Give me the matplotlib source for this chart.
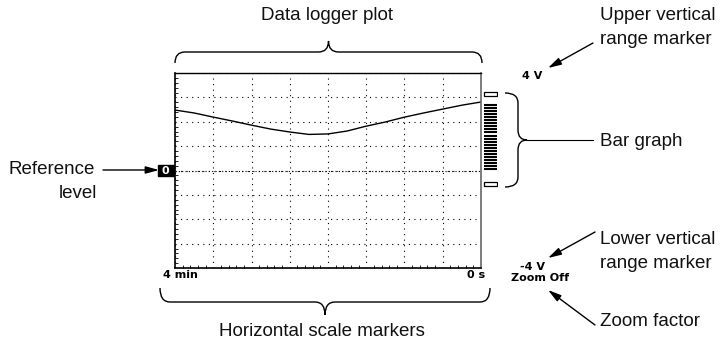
import numpy as np
import matplotlib
matplotlib.use("Agg")
import matplotlib.pyplot as plt
from matplotlib.path import Path
from matplotlib.patches import PathPatch, Rectangle


# logged trace: time before now (min) and voltage (V)
TIME_MIN = [-4.0, -3.75, -3.5, -3.25, -3.0, -2.75, -2.5, -2.25, -2.0,
            -1.75, -1.5, -1.25, -1.0, -0.75, -0.5, -0.25, 0.0]
VOLTS = [2.48, 2.36, 2.19, 2.03, 1.86, 1.70, 1.58, 1.48, 1.50,
         1.62, 1.82, 1.99, 2.19, 2.36, 2.52, 2.68, 2.81]

V_RANGE = (-4, 4)
T_RANGE = (-4, 0)
REF_LEVEL = 0.0
BAR_MAX_MARK = 3.15
BAR_MIN_MARK = -0.55

TICK_TEXT = {"upper": "4 V", "lower": "-4 V", "left": "4 min", "right": "0 s",
             "zoom": "Zoom Off"}

W, H = 724, 348
LABEL_FONT = ["Liberation Sans", "DejaVu Sans"]
LABEL_SIZE = 13.5


def px_axes(fig, x0, y0, x1, y1):
    # pixel box (top-left origin) -> figure axes
    return fig.add_axes([x0 / W, 1 - y1 / H, (x1 - x0) / W, (y1 - y0) / H])


def brace(ax, a0, a1, base, line, tip, r=10, vertical=False, lw=1.0):
    mid = (a0 + a1) / 2
    s = np.sign(a1 - a0)
    pts = [(a0, base), (a0, line), (a0 + r * s, line),
           (mid - r * s, line), (mid, line), (mid, tip),
           (mid, line), (mid + r * s, line),
           (a1 - r * s, line), (a1, line), (a1, base)]
    codes = [Path.MOVETO, Path.CURVE3, Path.CURVE3, Path.LINETO,
             Path.CURVE3, Path.CURVE3, Path.CURVE3, Path.CURVE3,
             Path.LINETO, Path.CURVE3, Path.CURVE3]
    if vertical:
        pts = [(p[1], p[0]) for p in pts]
    ax.add_patch(PathPatch(Path(pts, codes), fill=False, lw=lw, color="black"))


def arrow(ax, start, end):
    ax.annotate("", xy=end, xytext=start,
                arrowprops=dict(arrowstyle="-|>,head_length=0.8,head_width=0.22",
                                color="black", lw=1.0, shrinkA=0, shrinkB=0))


def main():
    fig = plt.figure(figsize=(W / 100, H / 100), dpi=100)

    # main data logger plot
    ax = px_axes(fig, 175, 73, 481, 268)
    ax.plot(TIME_MIN, VOLTS, color="black", lw=1.0)
    ax.set_xlim(*T_RANGE)
    ax.set_ylim(*V_RANGE)
    ax.set_xticks(np.linspace(T_RANGE[0], T_RANGE[1], 9))
    ax.set_yticks(np.linspace(V_RANGE[0], V_RANGE[1], 9))
    ax.set_xticks(np.linspace(T_RANGE[0], T_RANGE[1], 41), minor=True)
    ax.set_yticks(np.linspace(V_RANGE[0], V_RANGE[1], 41), minor=True)
    ax.tick_params(which="major", length=0, labelbottom=False, labelleft=False)
    ax.tick_params(which="minor", direction="in", length=2, width=0.6,
                   top=False, right=False)
    ax.grid(True, which="major", linestyle=(0, (1, 4)), color="black", lw=0.8)
    ax.axhline(REF_LEVEL, linestyle=(0, (1, 2)), color="black", lw=0.8)
    for side in ["left", "bottom", "right"]:
        ax.spines[side].set_linewidth(1.2)
    ax.spines["top"].set_linewidth(1.0)
    ax.spines["right"].set_color("#666666")

    # bar graph beside the plot
    bar = px_axes(fig, 483, 73, 498, 268)
    bar.set_xlim(0, 1)
    bar.set_ylim(*V_RANGE)
    bar.axis("off")
    stripes = np.arange(REF_LEVEL + 0.06, VOLTS[-1], 0.125)
    bar.hlines(stripes, 0.05, 0.95, color="black", lw=1.5)
    for level in [BAR_MAX_MARK, BAR_MIN_MARK]:
        bar.add_patch(Rectangle((0.05, level - 0.08), 0.9, 0.16, fill=False,
                                lw=0.9, color="black"))

    # annotation layer in pixel coordinates
    ann = fig.add_axes([0, 0, 1, 1])
    ann.set_xlim(0, W)
    ann.set_ylim(H, 0)
    ann.axis("off")
    ann.set_zorder(5)

    lab = dict(fontfamily=LABEL_FONT, fontsize=LABEL_SIZE, color="#111111")
    small = dict(fontfamily="DejaVu Sans", fontsize=8, fontweight="bold",
                 ha="center", va="center")

    ann.text(327, 16, "Data logger plot", ha="center", va="center", **lab)
    brace(ann, 175, 482, 63, 52, 41)

    ann.text(322, 331, "Horizontal scale markers", ha="center", va="center", **lab)
    brace(ann, 160, 490, 288, 302, 315)

    brace(ann, 93, 187, 505, 518, 527, vertical=True)
    ann.plot([527, 593], [140, 140], color="black", lw=0.8)
    ann.text(600, 141, "Bar graph", ha="left", va="center", **lab)

    ann.text(600, 15, "Upper vertical", ha="left", va="center", **lab)
    ann.text(600, 40, "range marker", ha="left", va="center", **lab)
    arrow(ann, (593, 43), (548, 68))

    ann.text(600, 240, "Lower vertical", ha="left", va="center", **lab)
    ann.text(600, 264, "range marker", ha="left", va="center", **lab)
    arrow(ann, (595, 232), (548, 258))

    ann.text(600, 321, "Zoom factor", ha="left", va="center", **lab)
    arrow(ann, (595, 325), (548, 290))

    ann.text(95, 170, "Reference", ha="right", va="center", **lab)
    ann.text(97, 193, "level", ha="right", va="center", **lab)
    arrow(ann, (103, 170), (159, 170))
    ann.add_patch(Rectangle((158, 165), 16, 11, color="black"))
    ann.text(165, 170.5, "0", color="white", **small)

    ann.text(532, 76, TICK_TEXT["upper"], **small)
    ann.text(533, 267, TICK_TEXT["lower"], **small)
    ann.text(540, 278, TICK_TEXT["zoom"], **small)
    ann.text(180, 275, TICK_TEXT["left"], **small)
    ann.text(476, 275, TICK_TEXT["right"], **small)

    fig.savefig("out.png", dpi=100)
    plt.close(fig)


if __name__ == "__main__":
    main()
